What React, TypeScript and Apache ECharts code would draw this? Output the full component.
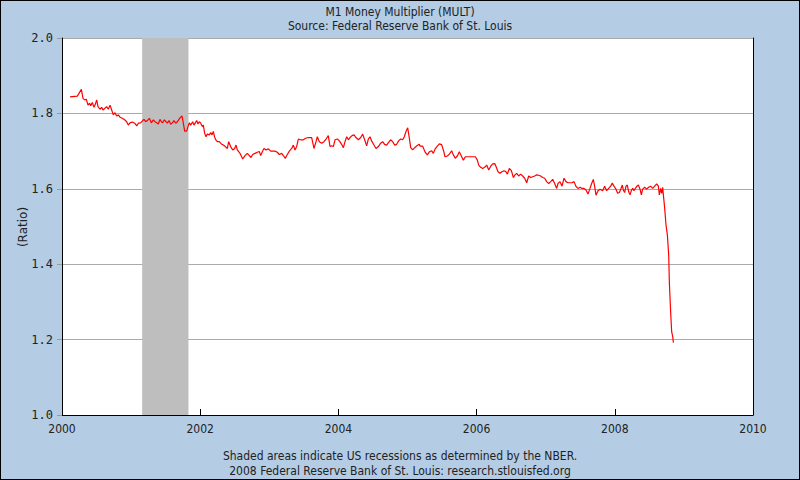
import React, { useEffect, useRef } from "react";
import * as echarts from "echarts";

const titleLines = ["M1 Money Multiplier (MULT)", "Source: Federal Reserve Bank of St. Louis"];
const footLines = ["Shaded areas indicate US recessions as determined by the NBER.", "2008 Federal Reserve Bank of St. Louis: research.stlouisfed.org"];
const yAxisName = "(Ratio)";
const recession = [2001.16, 2001.83];

const dates = [
  2000.116, 2000.222, 2000.246, 2000.280, 2000.304, 2000.328, 2000.352, 2000.376, 2000.400, 2000.415,
  2000.439, 2000.463, 2000.478, 2000.502, 2000.521, 2000.550, 2000.574, 2000.593, 2000.617, 2000.646,
  2000.670, 2000.695, 2000.719, 2000.743, 2000.767, 2000.791, 2000.815, 2000.839, 2000.873, 2000.907,
  2000.936, 2000.960, 2000.984, 2001.018, 2001.052, 2001.081, 2001.105, 2001.138, 2001.167, 2001.187,
  2001.211, 2001.235, 2001.264, 2001.293, 2001.322, 2001.346, 2001.370, 2001.394, 2001.418, 2001.438,
  2001.457, 2001.481, 2001.505, 2001.524, 2001.549, 2001.573, 2001.597, 2001.621, 2001.645, 2001.669,
  2001.693, 2001.717, 2001.737, 2001.756, 2001.775, 2001.804, 2001.823, 2001.843, 2001.862, 2001.891,
  2001.910, 2001.929, 2001.949, 2001.968, 2001.987, 2002.007, 2002.031, 2002.045, 2002.065, 2002.084,
  2002.103, 2002.132, 2002.152, 2002.171, 2002.190, 2002.209, 2002.229, 2002.248, 2002.277, 2002.306,
  2002.335, 2002.364, 2002.393, 2002.412, 2002.441, 2002.470, 2002.499, 2002.518, 2002.537,
  2002.576, 2002.615, 2002.648, 2002.682, 2002.711, 2002.735, 2002.759, 2002.793, 2002.827, 2002.856,
  2002.875, 2002.904, 2002.923, 2002.952, 2002.986, 2003.020, 2003.049, 2003.082, 2003.116, 2003.145,
  2003.179, 2003.203, 2003.232, 2003.261, 2003.290, 2003.324, 2003.348, 2003.372, 2003.396, 2003.420,
  2003.454, 2003.493, 2003.526, 2003.565, 2003.613, 2003.647, 2003.676, 2003.695, 2003.724, 2003.758,
  2003.792, 2003.821, 2003.854, 2003.879, 2003.903, 2003.927, 2003.951, 2003.985, 2004.014, 2004.047,
  2004.072, 2004.096, 2004.120, 2004.144, 2004.168, 2004.197, 2004.226, 2004.255, 2004.289, 2004.323,
  2004.351, 2004.380, 2004.409, 2004.433, 2004.457, 2004.486, 2004.515, 2004.544, 2004.578, 2004.612,
  2004.640, 2004.669, 2004.698, 2004.727, 2004.756, 2004.785, 2004.814, 2004.843, 2004.872, 2004.901,
  2004.930, 2004.954, 2004.978, 2005.003, 2005.027, 2005.046, 2005.075, 2005.104, 2005.133, 2005.171,
  2005.181, 2005.220, 2005.253, 2005.287, 2005.316, 2005.350, 2005.374, 2005.398, 2005.432, 2005.461,
  2005.494, 2005.519, 2005.543, 2005.577, 2005.606, 2005.639, 2005.663, 2005.692, 2005.721, 2005.750,
  2005.779, 2005.808, 2005.837, 2005.866, 2005.905, 2005.943, 2005.982, 2006.011, 2006.030, 2006.059,
  2006.088, 2006.117, 2006.146, 2006.175, 2006.204, 2006.233, 2006.262, 2006.281, 2006.310, 2006.339,
  2006.368, 2006.397, 2006.426, 2006.445, 2006.474, 2006.503, 2006.532, 2006.556, 2006.580, 2006.609,
  2006.638, 2006.667, 2006.696, 2006.725, 2006.754, 2006.783, 2006.812, 2006.841, 2006.870, 2006.898,
  2006.927, 2006.956, 2006.985, 2007.014, 2007.043, 2007.072, 2007.101, 2007.130, 2007.159, 2007.178,
  2007.207, 2007.236, 2007.265, 2007.294, 2007.323, 2007.352, 2007.381, 2007.410, 2007.439, 2007.468,
  2007.497, 2007.525, 2007.554, 2007.583, 2007.612, 2007.641, 2007.665, 2007.689, 2007.709, 2007.728,
  2007.757, 2007.786,
  2007.824, 2007.853, 2007.882, 2007.911, 2007.940, 2007.964, 2007.988, 2008.017, 2008.041, 2008.066,
  2008.090, 2008.109, 2008.123, 2008.143, 2008.162, 2008.181, 2008.201, 2008.220, 2008.239, 2008.259,
  2008.278, 2008.297, 2008.316, 2008.341, 2008.365, 2008.384, 2008.403, 2008.432, 2008.461, 2008.490,
  2008.519, 2008.548, 2008.577, 2008.606, 2008.630, 2008.645, 2008.664, 2008.679, 2008.693, 2008.703,
  2008.722, 2008.741, 2008.761, 2008.780, 2008.790, 2008.809, 2008.823, 2008.838, 2008.848,
];

const ratios = [
  1.844, 1.846, 1.853, 1.864, 1.840, 1.836, 1.837, 1.822, 1.827, 1.820,
  1.829, 1.816, 1.822, 1.836, 1.818, 1.811, 1.816, 1.809, 1.813, 1.818,
  1.811, 1.822, 1.809, 1.796, 1.802, 1.793, 1.796, 1.790, 1.787, 1.783,
  1.778, 1.769, 1.775, 1.777, 1.774, 1.767, 1.774, 1.775, 1.781, 1.784,
  1.778, 1.781, 1.787, 1.775, 1.783, 1.778, 1.775, 1.772, 1.784, 1.778,
  1.775, 1.783, 1.778, 1.774, 1.781, 1.771, 1.775, 1.781, 1.774, 1.778,
  1.784, 1.790, 1.793, 1.774, 1.753, 1.753, 1.765, 1.775, 1.769, 1.778,
  1.769, 1.775, 1.781, 1.772, 1.778, 1.774, 1.765, 1.769, 1.747, 1.738,
  1.745, 1.743, 1.749, 1.743, 1.752, 1.737, 1.729, 1.725, 1.725, 1.719,
  1.716, 1.712, 1.707, 1.725, 1.712, 1.703, 1.707, 1.716, 1.703,
  1.694, 1.679, 1.688, 1.694, 1.688, 1.683, 1.691, 1.694, 1.697, 1.699,
  1.688, 1.700, 1.707, 1.703, 1.706, 1.700, 1.700, 1.700, 1.697, 1.691,
  1.694, 1.688, 1.681, 1.691, 1.700, 1.707, 1.716, 1.703, 1.712, 1.732,
  1.730, 1.730, 1.734, 1.736, 1.736, 1.707, 1.725, 1.738, 1.725, 1.721,
  1.725, 1.732, 1.741, 1.712, 1.714, 1.712, 1.730, 1.732, 1.727, 1.718,
  1.709, 1.725, 1.738, 1.730, 1.736, 1.741, 1.743, 1.736, 1.730, 1.736,
  1.745, 1.730, 1.714, 1.732, 1.738, 1.725, 1.716, 1.707, 1.712, 1.721,
  1.725, 1.718, 1.716, 1.723, 1.730, 1.725, 1.716, 1.718, 1.727, 1.732,
  1.730, 1.738, 1.752, 1.762, 1.734, 1.709, 1.703, 1.709, 1.714, 1.718,
  1.713, 1.713, 1.698, 1.690, 1.698, 1.701, 1.694, 1.705, 1.713, 1.719,
  1.717, 1.703, 1.685, 1.687, 1.692, 1.701, 1.690, 1.681, 1.687, 1.698,
  1.687, 1.676, 1.685, 1.685, 1.685, 1.685, 1.685, 1.676, 1.663, 1.657,
  1.654, 1.657, 1.663, 1.650, 1.660, 1.666, 1.667, 1.659, 1.645, 1.641,
  1.645, 1.648, 1.645, 1.639, 1.654, 1.648, 1.630, 1.637, 1.641, 1.634,
  1.639, 1.634, 1.628, 1.616, 1.634, 1.630, 1.632, 1.634, 1.637, 1.636,
  1.634, 1.630, 1.628, 1.619, 1.614, 1.619, 1.625, 1.614, 1.601, 1.614,
  1.619, 1.607, 1.628, 1.619, 1.616, 1.616, 1.616, 1.619, 1.606, 1.601,
  1.604, 1.601, 1.601, 1.597, 1.586, 1.601, 1.614, 1.625, 1.606, 1.583,
  1.595, 1.599,
  1.595, 1.607, 1.595, 1.601, 1.607, 1.615, 1.607, 1.599, 1.588, 1.590,
  1.601, 1.610, 1.597, 1.590, 1.607, 1.610, 1.592, 1.584, 1.595, 1.601,
  1.595, 1.601, 1.606, 1.610, 1.599, 1.584, 1.599, 1.604, 1.599, 1.604,
  1.607, 1.601, 1.607, 1.613, 1.607, 1.584, 1.601, 1.588, 1.604, 1.584,
  1.548, 1.504, 1.477, 1.424, 1.349, 1.270, 1.221, 1.208, 1.192,
];

const xTicks = [2000, 2010, 2];
const yTicks = [1.0, 2.0, 0.2];

const sans = "'DejaVu Sans Condensed', 'Liberation Sans Narrow', 'DejaVu Sans', sans-serif";
const mono = "'DejaVu Sans Mono', 'Liberation Mono', monospace";

export default function App() {
  const ref = useRef<HTMLDivElement>(null);
  useEffect(() => {
    if (!ref.current) return;
    const chart = echarts.init(ref.current, null, { renderer: "svg" });
    const data = dates.map((d, i) => [d, ratios[i]]);
    const txt = { fontFamily: sans, fontSize: 12, fontWeight: "normal", color: "#222" };
    chart.setOption({
      animation: false,
      backgroundColor: "#b4cce4",
      title: [
        { text: titleLines[0], left: "center", top: 1, textStyle: txt },
        { text: titleLines[1], left: "center", top: 15, textStyle: txt },
        { text: footLines[0], left: "center", top: 445, textStyle: txt },
        { text: footLines[1], left: "center", top: 460, textStyle: txt },
      ],
      graphic: [
        {
          type: "text",
          x: 23,
          y: 227,
          rotation: Math.PI / 2,
          style: {
            text: yAxisName,
            fontFamily: "'DejaVu Sans', sans-serif",
            fontSize: 12,
            fill: "#222",
            align: "center",
            verticalAlign: "middle",
          },
        },
      ],
      grid: {
        left: 62,
        top: 38,
        width: 691,
        height: 377,
        show: true,
        backgroundColor: "#ffffff",
        borderWidth: 0,
      },
      xAxis: {
        type: "value",
        min: xTicks[0],
        max: xTicks[1],
        interval: xTicks[2],
        axisLine: { show: true, onZero: false, lineStyle: { color: "#000", width: 1 } },
        axisTick: { show: true, inside: true, length: 6, lineStyle: { color: "#000" } },
        splitLine: { show: false },
        axisLabel: {
          fontFamily: sans,
          fontSize: 12,
          color: "#222",
          margin: 8,
          formatter: (v: number) => String(v),
        },
      },
      yAxis: [
        {
          type: "value",
          min: yTicks[0],
          max: yTicks[1],
          interval: yTicks[2],
          axisLine: { show: true, lineStyle: { color: "#000", width: 1 } },
          axisTick: { show: true, inside: false, length: 5, lineStyle: { color: "#999" } },
          splitLine: { show: true, lineStyle: { color: "#aaaaaa", width: 1 } },
          axisLabel: {
            fontFamily: mono,
            fontSize: 12,
            color: "#222",
            margin: 9,
            formatter: (v: number) => v.toFixed(1),
          },
        },
        {
          type: "value",
          position: "right",
          min: yTicks[0],
          max: yTicks[1],
          interval: yTicks[2],
          axisLine: { show: true, lineStyle: { color: "#000", width: 1 } },
          axisTick: { show: false },
          axisLabel: { show: false },
          splitLine: { show: false },
        },
      ],
      series: [
        {
          type: "line",
          data,
          showSymbol: false,
          symbol: "none",
          lineStyle: { color: "#ff0000", width: 1.2 },
          z: 3,
          markArea: {
            silent: true,
            itemStyle: { color: "#bebebe", opacity: 1 },
            data: [[{ xAxis: recession[0] }, { xAxis: recession[1] }]],
          },
        },
      ],
    });
    return () => chart.dispose();
  }, []);
  return (
    <div
      style={{
        position: "absolute",
        left: 0,
        top: 0,
        width: 800,
        height: 480,
        boxSizing: "border-box",
        border: "1px solid #000",
        overflow: "hidden",
      }}
    >
      <div ref={ref} style={{ position: "absolute", left: -1, top: -1, width: 800, height: 480 }} />
    </div>
  );
}
